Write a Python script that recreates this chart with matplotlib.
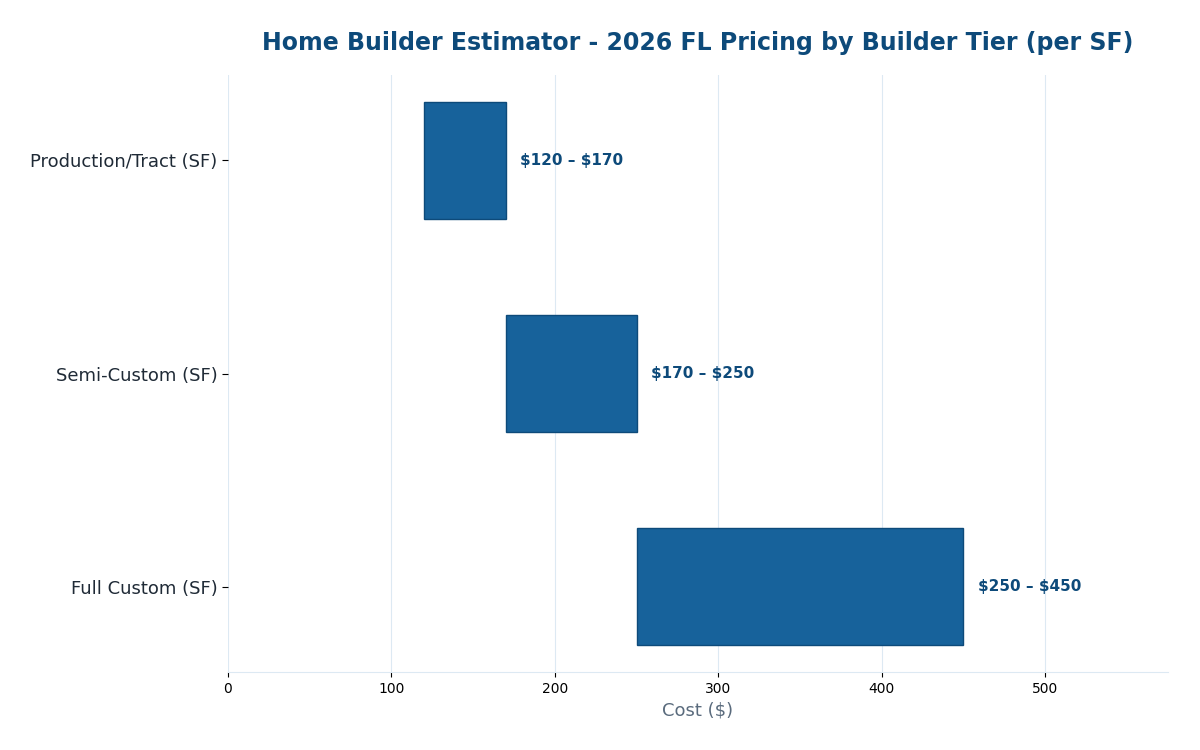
import numpy as np
import matplotlib
matplotlib.use('Agg')
import matplotlib.pyplot as plt

# data
tiers = ['Production/Tract (SF)', 'Semi-Custom (SF)', 'Full Custom (SF)']
low_cost = [120, 170, 250]
high_cost = [170, 250, 450]

bar_color = '#17629b'
dark_blue = '#0d4a7a'

fig = plt.figure(figsize=(12, 7.5), dpi=100)
ax = fig.add_axes([0.19, 0.104, 0.783, 0.796])

y = np.arange(len(tiers))
widths = [h - l for l, h in zip(low_cost, high_cost)]
ax.barh(y, widths, left=low_cost, height=0.55, color=bar_color,
        edgecolor=dark_blue, linewidth=1, zorder=3)

for yi, l, h in zip(y, low_cost, high_cost):
    ax.annotate(f'\\${l} – \\${h}', xy=(h, yi), xytext=(10.5, 0),
                textcoords='offset points', va='center', ha='left',
                fontsize=11, fontweight='bold', color=dark_blue)

ax.set_yticks(y)
ax.set_yticklabels(tiers, fontsize=13, color='#1f2a36')
ax.set_ylim(2.4, -0.4)
ax.set_xlim(0, 575)
ax.set_xticks([0, 100, 200, 300, 400, 500])
ax.tick_params(axis='x', labelsize=10, colors='black')
ax.tick_params(axis='y', length=4)

ax.grid(axis='x', color='#dde9f3', linewidth=0.8, zorder=0)
ax.set_axisbelow(True)
for side in ['top', 'right', 'left']:
    ax.spines[side].set_visible(False)
ax.spines['bottom'].set_color('#dde9f3')

ax.set_xlabel('Cost (\\$)', fontsize=13, color='#5a6b7d', labelpad=4.5)
ax.set_title('Home Builder Estimator - 2026 FL Pricing by Builder Tier (per SF)',
             fontsize=17, fontweight='bold', color=dark_blue, pad=18)

fig.savefig('out.png', dpi=100)
